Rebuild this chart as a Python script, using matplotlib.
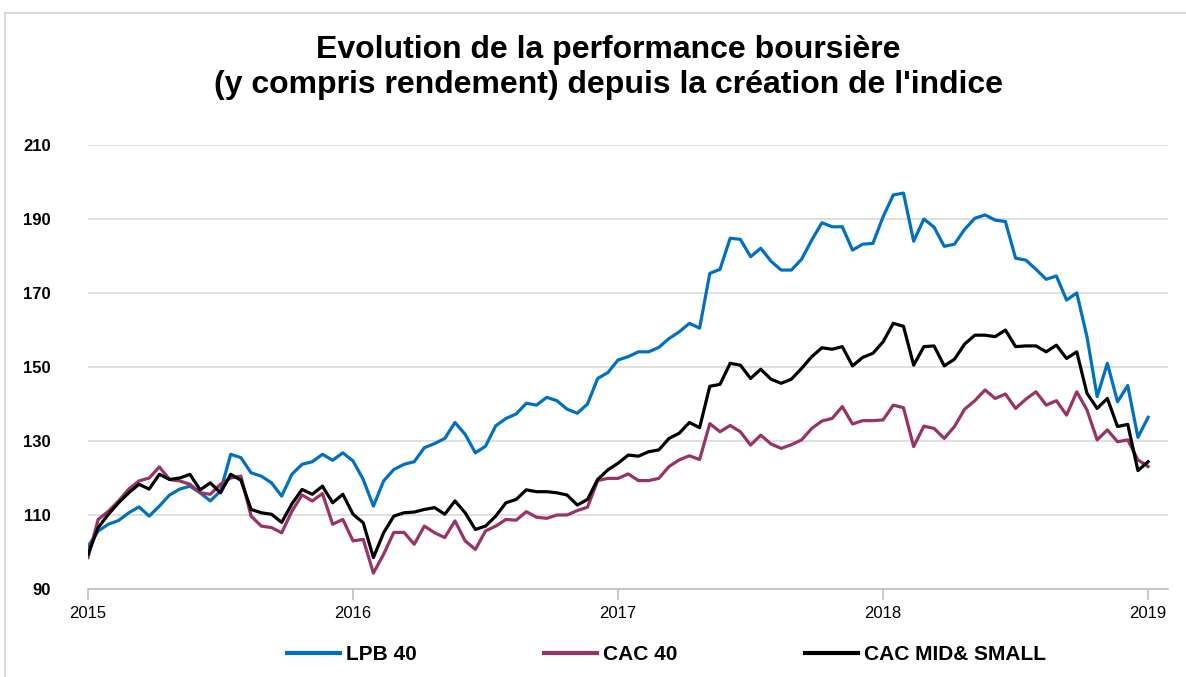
import numpy as np
import matplotlib
matplotlib.use("Agg")
import matplotlib.pyplot as plt
from matplotlib.lines import Line2D

plt.rcParams['font.family'] = ['Liberation Sans', 'DejaVu Sans']

title = "Evolution de la performance boursière\n(y compris rendement) depuis la création de l'indice"
years = [2015, 2016, 2017, 2018, 2019]
yticks = [90, 110, 130, 150, 170, 190, 210]

# biweekly readings, Jan 2015 -> Dec 2018
lpb40 = [101.5, 105.7, 107.5, 108.5, 110.6, 112.2, 109.7, 112.4, 115.4, 117.0,
         117.8, 116.0, 113.8, 116.5, 126.4, 125.5, 121.4, 120.5, 118.7, 115.1,
         121.0, 123.7, 124.4, 126.4, 124.8, 126.8, 124.6, 119.6, 112.4, 119.2,
         122.3, 123.7, 124.4, 128.2, 129.3, 130.7, 135.0, 131.8, 126.8, 128.6,
         134.1, 136.1, 137.3, 140.2, 139.7, 141.8, 140.9, 138.6, 137.5, 140.0,
         146.9, 148.5, 151.9, 152.8, 154.1, 154.1, 155.3, 157.7, 159.5, 161.8,
         160.5, 175.3, 176.4, 184.8, 184.5, 179.8, 182.1, 178.6, 176.2, 176.2,
         179.1, 184.3, 189.0, 187.9, 187.9, 181.6, 183.2, 183.4, 190.6, 196.5,
         197.0, 184.0, 190.0, 187.8, 182.6, 183.2, 187.2, 190.2, 191.1, 189.7,
         189.3, 179.4, 178.9, 176.4, 173.7, 174.6, 168.1, 170.0, 158.2, 142.0,
         151.0, 140.6, 145.0, 131.0, 136.4]

cac40 = [98.5, 108.8, 111.0, 113.8, 117.0, 119.2, 120.0, 123.0, 119.6, 119.2,
         118.3, 116.0, 115.6, 118.3, 120.0, 120.5, 109.7, 107.0, 106.6, 105.2,
         111.0, 115.4, 113.8, 115.8, 107.5, 108.8, 103.0, 103.4, 94.3, 99.4,
         105.3, 105.3, 102.1, 107.0, 105.2, 103.9, 108.4, 103.0, 100.7, 105.7,
         107.0, 108.8, 108.6, 110.9, 109.4, 109.1, 110.0, 110.0, 111.2, 112.1,
         119.3, 119.9, 119.9, 121.1, 119.3, 119.3, 119.9, 123.1, 124.9, 126.0,
         125.0, 134.7, 132.5, 134.2, 132.5, 128.9, 131.6, 129.2, 128.0, 129.0,
         130.3, 133.4, 135.4, 136.1, 139.3, 134.6, 135.5, 135.5, 135.7, 139.7,
         139.0, 128.5, 134.0, 133.4, 130.7, 133.9, 138.6, 140.9, 143.8, 141.5,
         142.7, 138.8, 141.3, 143.3, 139.7, 140.9, 137.0, 143.3, 138.4, 130.3,
         133.0, 129.8, 130.3, 124.9, 123.1]

cac_mid_small = [99.4, 106.6, 110.2, 113.3, 116.0, 118.3, 117.0, 121.0, 119.6, 120.0,
                 121.0, 116.8, 118.7, 116.0, 121.0, 119.4, 111.5, 110.6, 110.2, 108.0,
                 113.0, 116.9, 115.6, 117.8, 113.3, 115.6, 110.2, 107.9, 98.5, 105.2,
                 109.7, 110.6, 110.8, 111.5, 112.0, 110.2, 113.8, 110.6, 106.1, 107.0,
                 109.7, 113.3, 114.2, 116.8, 116.3, 116.3, 116.0, 115.4, 112.7, 114.2,
                 119.6, 122.2, 124.0, 126.2, 125.9, 127.1, 127.6, 130.7, 132.1, 135.0,
                 133.6, 144.8, 145.3, 151.0, 150.5, 146.9, 149.4, 146.7, 145.6, 146.7,
                 149.6, 152.8, 155.2, 154.8, 155.5, 150.3, 152.6, 153.7, 156.8, 161.8,
                 161.0, 150.5, 155.5, 155.7, 150.3, 152.1, 156.2, 158.6, 158.6, 158.2,
                 160.0, 155.5, 155.7, 155.7, 154.1, 155.9, 152.3, 154.1, 142.9, 138.8,
                 141.5, 133.9, 134.5, 122.0, 124.4]

series = [("LPB 40", lpb40, "#0070C0"),
          ("CAC 40", cac40, "#993366"),
          ("CAC MID& SMALL", cac_mid_small, "#000000")]

fig = plt.figure(figsize=(11.86, 6.77), dpi=100)
ax = fig.add_axes([88 / 1186, 1 - 589 / 677, 1080 / 1186, 444 / 677])

for name, vals, col in series:
    x = np.linspace(2015, 2019, len(vals))
    ax.plot(x, vals, color=col, lw=2.3, label=name, solid_joinstyle='round')

ax.set_xlim(2015, 2019.075)
ax.set_ylim(90, 210)
ax.set_yticks(yticks)
ax.set_yticklabels([str(v) for v in yticks], fontweight='bold', fontsize=12)
ax.set_xticks(years)
ax.set_xticklabels([str(y) for y in years], fontsize=12)
ax.grid(axis='y', color='#D9D9D9', lw=1.2)
ax.set_axisbelow(True)
for s in ['top', 'right', 'left']:
    ax.spines[s].set_visible(False)
ax.spines['bottom'].set_color('#BFBFBF')
ax.spines['bottom'].set_linewidth(1.2)
ax.tick_params(axis='y', length=0, pad=27)
ax.tick_params(axis='x', length=8, color='#BFBFBF', width=1.2, pad=4)

fig.text(0.513, 0.948, title, ha='center', va='top', fontsize=23,
         fontweight='bold', linespacing=1.2)

leg = fig.legend(loc='center', bbox_to_anchor=(0.562, 1 - 655 / 677), ncol=3,
                 frameon=False, handlelength=2.55, handletextpad=0.3,
                 columnspacing=6.1, prop={'weight': 'bold', 'size': 15})
for h in leg.get_lines():
    h.set_linewidth(3)

# light frame round the chart
fig.add_artist(Line2D([5 / 1186, 1], [1 - 13 / 677] * 2, color='#D9D9D9', lw=1.5))
fig.add_artist(Line2D([5 / 1186] * 2, [0, 1 - 13 / 677], color='#D9D9D9', lw=1.5))

fig.savefig("out.png", dpi=100)
